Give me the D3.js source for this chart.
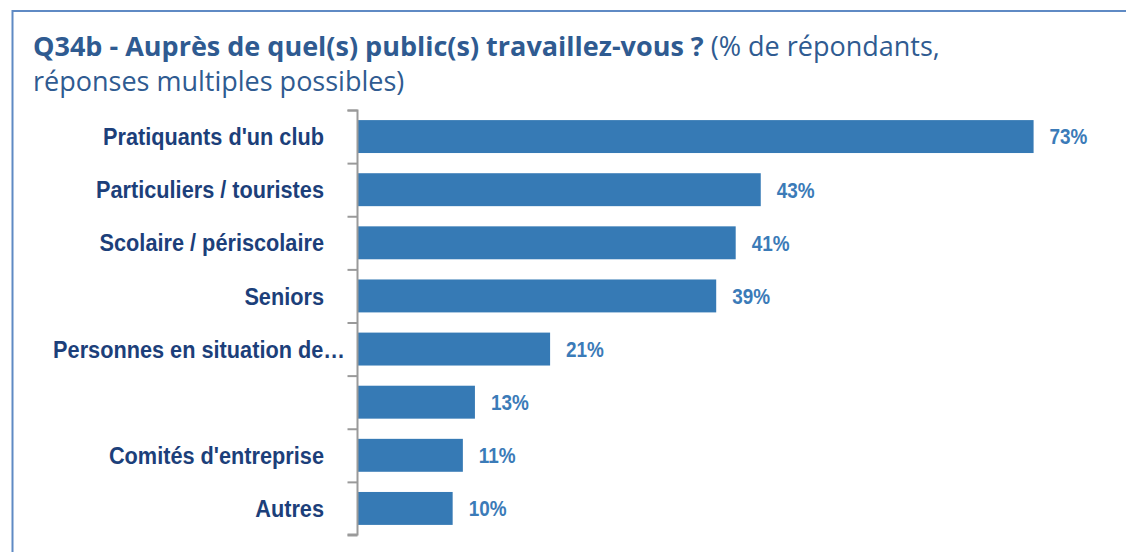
<!DOCTYPE html>
<html><head><meta charset="utf-8">
<script src="https://cdn.jsdelivr.net/npm/d3@7"></script>
<style>body{margin:0;background:#fff;}svg{display:block;}</style>
</head><body>
<script>
const categories = ["Pratiquants d'un club","Particuliers / touristes","Scolaire / périscolaire","Seniors","Personnes en situation de…","","Comités d'entreprise","Autres"];
const values = [72.8,43.4,40.7,38.6,20.7,12.6,11.3,10.2];
const valueLabels = ["73%","43%","41%","39%","21%","13%","11%","10%"];

const W=1126,H=552;
const svg=d3.select("body").append("svg").attr("width",W).attr("height",H);
svg.append("rect").attr("x",12.5).attr("y",11).attr("width",1200).attr("height",600)
  .attr("fill","none").attr("stroke","#5f8ac4").attr("stroke-width",2);

const t=svg.append("text").attr("x",33).attr("y",56).attr("font-family","Open Sans").attr("font-size",27).attr("fill","#2f5b91");
t.append("tspan").attr("font-weight","bold").text("Q34b - Auprès de quel(s) public(s) travaillez-vous ?");
t.append("tspan").text(" (% de répondants,");
svg.append("text").attr("x",33).attr("y",91).attr("font-family","Open Sans").attr("font-size",27).attr("fill","#2f5b91").text("réponses multiples possibles)");

const x0=357.5;
const x=d3.scaleLinear().domain([0,100]).range([358,358+928]);
const idx=d3.range(categories.length);
const y=d3.scaleBand().domain(idx).range([110,535]).paddingInner(0.38).paddingOuter(0.19);

const g=svg.append("g");
g.selectAll("rect.bar").data(idx).join("rect").attr("class","bar")
  .attr("x",x(0)).attr("y",i=>y(i)).attr("height",y.bandwidth())
  .attr("width",i=>x(values[i])-x(0)).attr("fill","#367ab5");

const axis=d3.axisLeft(d3.scaleLinear().domain([0,categories.length]).range([110,535])).ticks(categories.length).tickSize(10).tickFormat("");
const ag=svg.append("g").attr("transform",`translate(${x0},0)`).call(axis);
ag.selectAll("path,line").attr("stroke","#9a9a9a").attr("stroke-width",2);
ag.select("path").attr("d","M-10,110.5H0V534.5H-10");

const font="'Liberation Sans Narrow','Arial Narrow','Liberation Sans',sans-serif";
g.selectAll("text.cat").data(idx).join("text").attr("class","cat")
  .attr("transform",i=>`translate(${categories[i].endsWith("…")?345:324},${y(i)+y.bandwidth()/2}) scale(0.905,1)`)
  .attr("dy","0.36em").attr("text-anchor","end")
  .attr("font-family",font).attr("font-weight","bold").attr("font-size",24)
  .attr("fill","#1c3f7a").text(i=>categories[i]);

g.selectAll("text.val").data(idx).join("text").attr("class","val")
  .attr("transform",i=>`translate(${x(values[i])+16},${y(i)+y.bandwidth()/2}) scale(0.86,1)`)
  .attr("dy","0.36em")
  .attr("font-family",font).attr("font-weight","bold").attr("font-size",22)
  .attr("fill","#3b7bb8").text(i=>valueLabels[i]);
</script>
</body></html>
